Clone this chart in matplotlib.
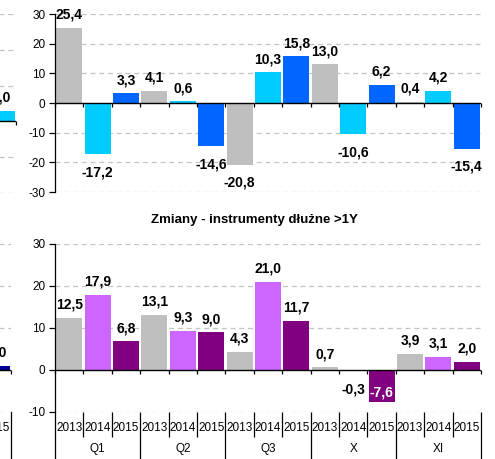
import matplotlib
matplotlib.use('Agg')
import numpy as np
import matplotlib.pyplot as plt
from matplotlib.transforms import blended_transform_factory

plt.rcParams['font.family'] = ['Liberation Sans', 'DejaVu Sans']

# ---------------- data ----------------
years = ['2013', '2014', '2015']
periods = ['Q1', 'Q2', 'Q3', 'X', 'XI']
top_values = [25.4, -17.2, 3.3, 4.1, 0.6, -14.6, -20.8, 10.3, 15.8, 13.0,
              -10.6, 6.2, 0.4, 4.2, -15.4]
bottom_values = [12.5, 17.9, 6.8, 13.1, 9.3, 9.0, 4.3, 21.0, 11.7, 0.7,
                 -0.3, -7.6, 3.9, 3.1, 2.0]
bottom_title = 'Zmiany - instrumenty dłużne >1Y'
top_yticks = [-30, -20, -10, 0, 10, 20, 30]
bottom_yticks = [-10, 0, 10, 20, 30]
# partially visible neighbouring chart (cut at the left edge)
prev_top_values = [3.0]
prev_bottom_values = [1.0]
prev_top_yticks = [-20, -10, 0, 10, 20, 30]
prev_year_labels = ['2015']

top_colors = ['#BFBFBF', '#00CCFF', '#0066FF']
bottom_colors = ['#BFBFBF', '#CC66FF', '#800080']
prev_top_colors = ['#00CCFF']
prev_bottom_colors = ['#000099']

W, H = 495, 459
fig = plt.figure(figsize=(W / 100, H / 100), dpi=100)


def rect(x0, y0, x1, y1):
    return [x0 / W, 1 - y1 / H, (x1 - x0) / W, (y1 - y0) / H]


def fmt(v):
    return f'{v:.1f}'.replace('.', ',')


def draw(ax, values, colors, yticks, axes_px, show_y=True, labels=True):
    n = len(values)
    x = np.arange(n)
    cols = [colors[i % len(colors)] for i in range(n)]
    ax.bar(x, values, width=0.92, color=cols, zorder=2)
    ax.set_xlim(-0.5, n - 0.5)
    ymin, ymax = yticks[0], yticks[-1]
    ax.set_ylim(ymin, ymax)
    for t in yticks:
        if t != 0:
            ax.axhline(t, color='#C4C4C4', lw=0.9, ls=(0, (4, 3)), zorder=0)
    ax.axhline(0, color='black', lw=1.0, zorder=3)
    unit_px = axes_px / (ymax - ymin)
    tl = 4 / unit_px
    for b in np.arange(n + 1) - 0.5:
        ax.plot([b, b], [0, -tl], color='black', lw=0.9, zorder=3,
                clip_on=False, solid_capstyle='butt')
    ax.set_xticks([])
    for s in ['top', 'right', 'bottom']:
        ax.spines[s].set_visible(False)
    if show_y:
        ax.spines['left'].set_color('black')
        ax.spines['left'].set_linewidth(0.9)
        ax.set_yticks(yticks)
        ax.set_yticklabels([str(t) for t in yticks])
        ax.tick_params(axis='y', direction='out', length=4, width=0.9,
                       labelsize=8.5, pad=3)
    else:
        ax.spines['left'].set_visible(False)
        ax.set_yticks([])
    ax.patch.set_alpha(0)
    if labels:
        for i, v in enumerate(values):
            if v >= 0:
                ax.annotate(fmt(v), (i, v), xytext=(0, 9), textcoords='offset pixels',
                            ha='center', va='baseline', fontsize=10,
                            fontweight='bold', color='black', zorder=5,
                            annotation_clip=False)
            else:
                room = 22 / unit_px
                if v - room < ymin:
                    ax.annotate(fmt(v), (i, v), xytext=(0, 5), textcoords='offset pixels',
                                ha='center', va='baseline', fontsize=10,
                                fontweight='bold', color='white', zorder=5,
                                annotation_clip=False)
                else:
                    ax.annotate(fmt(v), (i, v), xytext=(0, -11), textcoords='offset pixels',
                                ha='center', va='top', fontsize=10,
                                fontweight='bold', color='black', zorder=5,
                                annotation_clip=False)


def category_axis(ax, n, year_labels, group_labels, axes_px, group_size=3):
    tr = blended_transform_factory(ax.transData, ax.transAxes)
    short = -25 / axes_px
    long_ = -48 / axes_px
    for b in range(n + 1):
        yb = long_ if b % group_size == 0 else short
        ax.plot([b - 0.5, b - 0.5], [0, yb], color='black', lw=0.9,
                transform=tr, clip_on=False, solid_capstyle='butt')
    for i in range(n):
        ax.text(i, -16 / axes_px, year_labels[i % len(year_labels)], transform=tr,
                ha='center', va='center', fontsize=8.5, color='black')
    for g, lab in enumerate(group_labels):
        ax.text(g * group_size + (group_size - 1) / 2, -37 / axes_px, lab,
                transform=tr, ha='center', va='center', fontsize=8.5, color='black')


# ---------- neighbouring (cut-off) chart on the left ----------
slot = (481 - 55) / 15
ax_pt = fig.add_axes(rect(16 - slot, 14, 16, 193))
draw(ax_pt, prev_top_values, prev_top_colors, prev_top_yticks, 179, show_y=False)
ax_pb = fig.add_axes(rect(11 - slot, 244, 11, 412))
draw(ax_pb, prev_bottom_values, prev_bottom_colors, bottom_yticks, 168, show_y=False)
trp = blended_transform_factory(ax_pb.transData, ax_pb.transAxes)
ax_pb.plot([0.5, 0.5], [0, -48 / 168], color='black', lw=0.9, transform=trp,
           clip_on=False)
ax_pb.text(0, -16 / 168, prev_year_labels[0], transform=trp, ha='center',
           va='center', fontsize=8.5)

# ---------- main top chart ----------
ax1 = fig.add_axes(rect(55, 14, 481, 192))
draw(ax1, top_values, top_colors, top_yticks, 178)

# ---------- main bottom chart ----------
ax2 = fig.add_axes(rect(55, 244, 481, 412))
draw(ax2, bottom_values, bottom_colors, bottom_yticks, 168)
category_axis(ax2, len(bottom_values), years, periods, 168)

fig.text(254 / W, 1 - 220 / H, bottom_title, ha='center', va='center',
         fontsize=9.5, fontweight='bold')

fig.savefig('out.png', dpi=100)
